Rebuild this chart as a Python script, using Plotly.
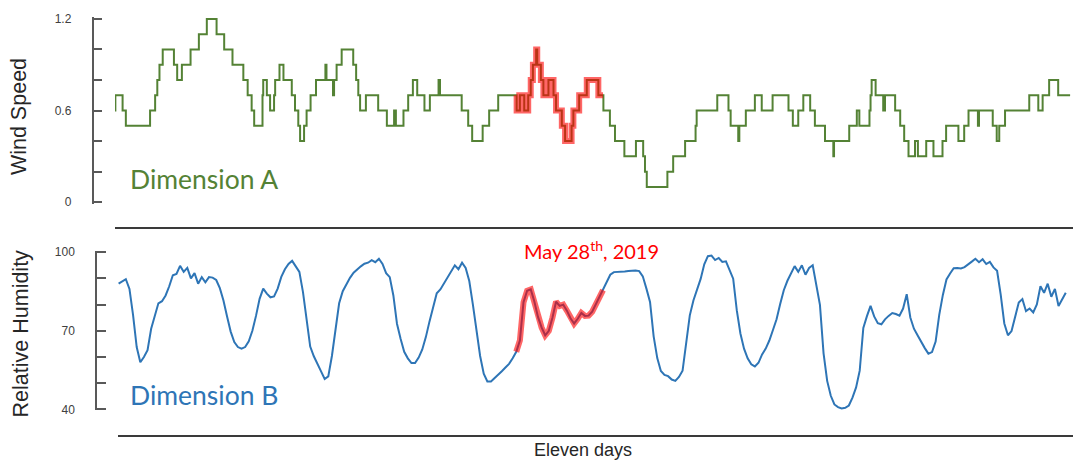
import numpy as np
import plotly.graph_objects as go

W, H = 1073, 469

# Wind speed: step series, hour at which each new reading starts and its value
wind_hours = [
    0.0, 0.1, 2.1, 3.0, 9.7, 11.1, 11.7, 12.3, 13.2, 16.3, 17.2, 18.5, 20.9, 23.2,
    25.4, 28.1, 30.2, 32.5, 35.5, 36.7, 37.8, 38.5, 40.8, 41.0, 42.0, 42.9, 44.0,
    44.3, 45.5, 46.6, 48.9, 49.8, 50.7, 51.2, 52.3, 53.0, 54.1, 55.6, 58.2, 58.5,
    60.3, 60.6, 61.3, 62.7, 65.9, 66.7, 67.3, 67.8, 69.4, 72.8, 75.2, 77.2, 77.7,
    79.8, 81.1, 82.4, 83.6, 85.6, 87.1, 89.5, 89.9, 95.9, 97.7, 98.8, 101.7, 103.5,
    106.0, 111.1, 112.0, 113.2, 114.3, 115.0, 115.6, 116.5, 116.8, 117.8, 118.5,
    119.9, 121.3, 122.0, 123.6, 124.5, 126.3, 126.8, 128.4, 130.5, 133.7, 135.1,
    136.9, 138.3, 140.9, 144.1, 146.1, 146.6, 147.1, 152.8, 154.4, 157.7, 160.6,
    160.9, 166.6, 169.7, 170.3, 172.4, 172.7, 174.5, 177.0, 178.9, 181.9, 186.3,
    187.5, 189.0, 190.4, 192.3, 193.6, 196.4, 198.7, 198.9, 203.1, 205.2, 205.9,
    208.7, 209.0, 209.3, 210.4, 212.5, 213.0, 215.8, 217.2, 218.3, 219.5, 221.3,
    222.1, 224.4, 226.4, 228.9, 229.9, 233.3, 234.9, 236.1, 238.7, 239.0, 242.8,
    243.9, 244.6, 246.2, 252.9, 255.4, 256.6, 258.4, 260.9, 264.2,
]
wind_speed = [
    0.6, 0.7, 0.6, 0.5, 0.6, 0.7, 0.8, 0.9, 1.0, 0.9, 0.8, 0.9, 1.0, 1.1,
    1.2, 1.1, 1.0, 0.9, 0.8, 0.7, 0.6, 0.5, 0.7, 0.8, 0.7, 0.6, 0.7,
    0.8, 0.9, 0.8, 0.7, 0.6, 0.5, 0.4, 0.5, 0.6, 0.7, 0.8, 0.9, 0.8,
    0.7, 0.8, 0.9, 1.0, 0.9, 0.8, 0.7, 0.6, 0.7, 0.6, 0.5, 0.6, 0.5,
    0.6, 0.7, 0.8, 0.7, 0.6, 0.7, 0.8, 0.7, 0.6, 0.5, 0.4, 0.5, 0.6,
    0.7, 0.6, 0.7, 0.6, 0.7, 0.8, 0.9, 1.0, 0.9, 0.8, 0.7,
    0.8, 0.7, 0.6, 0.5, 0.4, 0.5, 0.6, 0.7, 0.8, 0.7, 0.6,
    0.5, 0.4, 0.3, 0.4, 0.3, 0.2, 0.1, 0.2, 0.3, 0.4, 0.5,
    0.6, 0.7, 0.6, 0.5, 0.4, 0.5, 0.6, 0.7, 0.6, 0.7, 0.6,
    0.5, 0.6, 0.7, 0.6, 0.5, 0.4, 0.3, 0.4, 0.5, 0.6, 0.5,
    0.6, 0.7, 0.8, 0.7, 0.6, 0.7, 0.6, 0.5, 0.4, 0.3, 0.4,
    0.3, 0.4, 0.3, 0.4, 0.5, 0.4, 0.5, 0.6, 0.5, 0.6, 0.5,
    0.4, 0.5, 0.6, 0.7, 0.6, 0.7, 0.8, 0.7, 0.7,
]

# Relative humidity: hourly readings starting at hour 1
rh_first_hour = 1
relative_humidity = [
    88.0, 89.0, 89.7, 86.0, 76.0, 63.8, 58.0, 60.0, 62.6, 70.8,
    76.2, 80.5, 81.3, 83.5, 87.0, 91.2, 91.7, 94.8, 92.5, 94.0,
    90.0, 92.0, 88.0, 90.5, 88.5, 90.5, 90.3, 89.4, 86.3, 81.6,
    75.5, 69.7, 65.7, 63.8, 63.2, 63.8, 66.0, 70.0, 75.7, 82.2,
    86.1, 84.2, 82.8, 83.1, 86.1, 90.6, 93.5, 95.5, 96.7, 94.5,
    92.5, 84.8, 75.1, 64.0, 60.3, 57.7, 54.5, 51.6, 52.6, 60.4,
    71.2, 80.5, 85.1, 87.7, 90.2, 92.2, 93.5, 94.6, 95.6, 96.0,
    97.0, 96.2, 97.5, 95.5, 92.0, 90.5, 83.5, 72.7, 67.0, 62.0,
    59.5, 57.7, 57.7, 59.8, 62.9, 67.7, 73.6, 79.1, 84.3, 85.8,
    88.0, 90.6, 92.9, 95.0, 93.5, 96.0, 94.0, 89.0, 80.0, 69.8,
    60.4, 53.6, 50.7, 50.7, 51.9, 53.3, 54.6, 56.0, 57.4, 59.5,
    62.0, 66.3, 80.9, 85.3, 85.8, 81.2, 75.3, 71.3, 68.3, 70.0,
    75.0, 81.1, 79.5, 80.0, 77.7, 74.8, 72.8, 74.6, 76.8, 75.7,
    75.8, 77.3, 80.1, 83.0, 85.5, 88.1, 91.4, 92.4, 92.4, 92.5,
    92.6, 92.8, 93.0, 93.0, 92.8, 90.8, 86.1, 81.0, 67.9, 59.6,
    54.7, 53.2, 52.7, 51.4, 50.9, 52.4, 54.8, 64.8, 75.9, 81.6,
    86.0, 89.8, 95.4, 98.5, 98.7, 97.0, 97.8, 96.3, 96.5, 92.8,
    89.9, 77.8, 69.0, 63.2, 59.5, 57.2, 56.4, 57.8, 61.0, 63.2,
    66.3, 70.3, 74.4, 80.2, 85.5, 89.1, 92.0, 94.7, 92.5, 95.0,
    91.4, 94.0, 95.0, 87.9, 79.9, 61.4, 50.9, 45.2, 41.9, 40.9,
    40.4, 40.6, 41.5, 44.5, 48.4, 54.8, 71.1, 75.6, 79.5, 75.5,
    72.9, 72.5, 74.4, 75.7, 76.8, 76.4, 75.8, 78.5, 84.0, 75.1,
    70.8, 68.3, 65.6, 63.4, 61.3, 61.9, 65.9, 76.1, 83.7, 89.6,
    91.9, 93.9, 94.0, 93.8, 94.3, 95.5, 96.4, 97.5, 96.2, 97.3,
    95.5, 96.3, 94.2, 92.9, 83.8, 72.8, 68.3, 69.9, 75.6, 80.8,
    82.1, 77.5, 78.5, 77.0, 80.1, 87.0, 84.5, 88.0, 83.0, 86.0,
    79.5, 82.0, 84.5,
]

# Highlighted day (hours)
day_start, day_end = 111.0, 135.0
day_label = "May 28<sup>th</sup>, 2019"

wind_tickvals = [0, 0.2, 0.4, 0.6, 0.8, 1.0, 1.2]
wind_ticktext = ["0", "", "", "0.6", "", "", "1.2"]
rh_tickvals = [40, 50, 60, 70, 80, 90, 100]
rh_ticktext = ["40", "", "", "70", "", "", "100"]

GREEN = "#548235"
BLUE = "#2E75B6"
HIGHLIGHT = "rgba(255,0,0,0.6)"
AXIS = "#595959"
XAXIS = "#3a3a3a"
TEXT = "#262626"


def fx(p):
    return p / W


def fy(p):
    return 1 - p / H


wt = np.array(wind_hours)
wv = np.array(wind_speed)
inside = (wt > day_start) & (wt < day_end)
hl_wt = np.concatenate([[day_start], wt[inside], [day_end]])
hl_wv = np.concatenate([[wv[wt <= day_start][-1]], wv[inside], [wv[wt < day_end][-1]]])

rh = np.array(relative_humidity)
rh_hours = np.arange(len(rh)) + rh_first_hour
in_day = (rh_hours >= day_start) & (rh_hours <= day_end)

fig = go.Figure()
fig.add_trace(go.Scatter(x=wt, y=wv, mode="lines", xaxis="x", yaxis="y",
                         line=dict(color=GREEN, width=2, shape="hv"), hoverinfo="skip"))
fig.add_trace(go.Scatter(x=hl_wt, y=hl_wv, mode="lines", xaxis="x", yaxis="y",
                         line=dict(color=HIGHLIGHT, width=6, shape="hv"), hoverinfo="skip"))
fig.add_trace(go.Scatter(x=rh_hours, y=rh, mode="lines", xaxis="x2", yaxis="y2",
                         line=dict(color=BLUE, width=2), hoverinfo="skip"))
fig.add_trace(go.Scatter(x=rh_hours[in_day], y=rh[in_day], mode="lines", xaxis="x2", yaxis="y2",
                         line=dict(color=HIGHLIGHT, width=6), hoverinfo="skip"))

tick_font = dict(family="Liberation Sans, Arial, sans-serif", size=12, color="#404040")

x_common = dict(showgrid=False, zeroline=False, showline=True, linecolor=XAXIS, linewidth=1.5,
                ticks="inside", ticklen=6, tickwidth=1.5, tickcolor=XAXIS,
                showticklabels=False, anchor="free", fixedrange=True)
y_common = dict(showgrid=False, zeroline=False, showline=True, linecolor=AXIS, linewidth=1.5,
                ticks="inside", ticklen=9, tickwidth=1.5, tickcolor=AXIS,
                tickfont=tick_font, ticklabelstandoff=18, anchor="free", fixedrange=True)

fig.update_layout(
    width=W, height=H,
    margin=dict(l=0, r=0, t=0, b=0),
    paper_bgcolor="white", plot_bgcolor="white",
    showlegend=False,
    xaxis=dict(x_common, domain=[fx(115), 1], range=[0, 265], position=fy(228),
               tickvals=[0.02]),
    yaxis=dict(y_common, domain=[fy(202.9), fy(11.7)], range=[-0.01, 1.21], position=fx(92.5),
               tickvals=wind_tickvals, ticktext=wind_ticktext),
    xaxis2=dict(x_common, domain=[fx(118), 1], range=[0.83, 265], position=fy(441),
                tickvals=[0.85]),
    yaxis2=dict(y_common, domain=[fy(415.1), fy(251.6)], range=[39.6, 100.4], position=fx(96),
                tickvals=rh_tickvals, ticktext=rh_ticktext),
)

title_font = dict(family="Liberation Sans, Arial, sans-serif", size=21.5, color=TEXT)
label_font = "Lato, sans-serif"
centered = dict(xref="paper", yref="paper", xanchor="center", yanchor="middle", showarrow=False)
fig.add_annotation(text="Wind Speed", x=fx(19), y=fy(114), textangle=-90,
                   font=title_font, **centered)
fig.add_annotation(text="Relative Humidity", x=fx(21), y=fy(336), textangle=-90,
                   font=title_font, **centered)
fig.add_annotation(text="Eleven days", x=fx(583), y=fy(456),
                   font=dict(family="Liberation Sans, Arial, sans-serif", size=18, color=TEXT),
                   **centered)
fig.add_annotation(text="Dimension A", x=fx(128), y=fy(178), xref="paper", yref="paper",
                   xanchor="left", yanchor="middle", showarrow=False,
                   font=dict(family=label_font, size=26.5, color=GREEN))
fig.add_annotation(text="Dimension B", x=fx(128), y=fy(399), xref="paper", yref="paper",
                   xanchor="left", yanchor="middle", showarrow=False,
                   font=dict(family=label_font, size=26.5, color=BLUE))
fig.add_annotation(text=day_label, x=fx(591), y=fy(250), font=dict(family=label_font, size=20,
                   color="#FF0000"), **centered)

fig.write_html("out.html")
